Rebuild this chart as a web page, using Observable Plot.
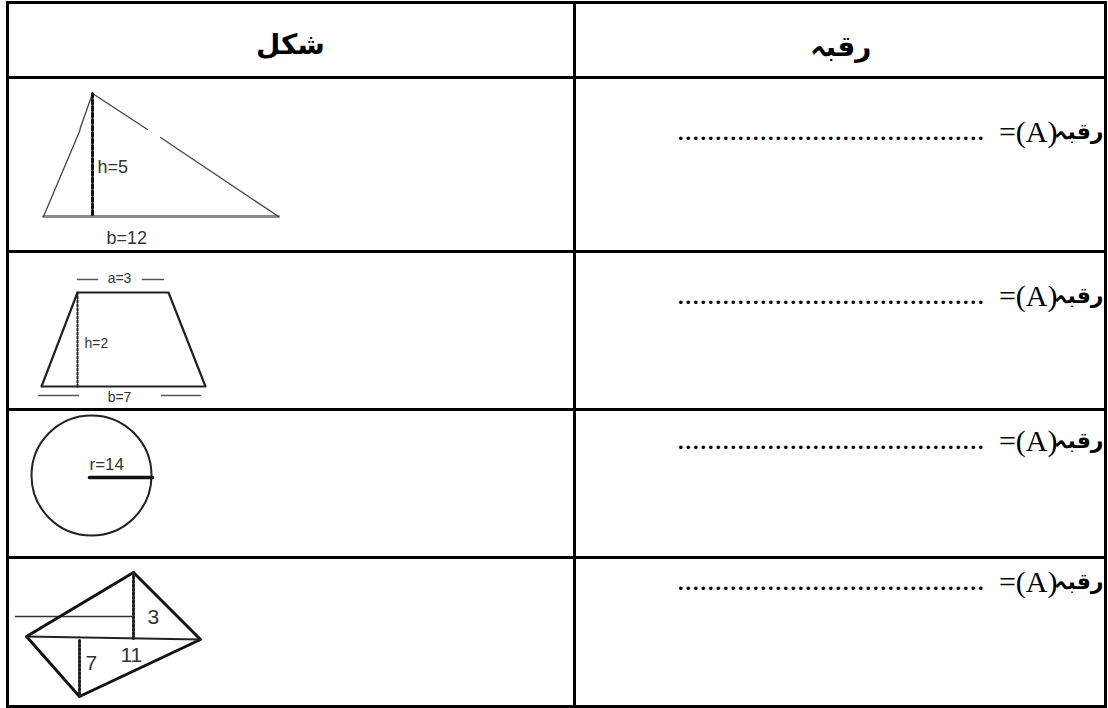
<!DOCTYPE html>
<html>
<head>
<meta charset="utf-8">
<script src="https://cdn.jsdelivr.net/npm/d3@7"></script>
<script src="https://cdn.jsdelivr.net/npm/@observablehq/plot@0.6"></script>
<style>
  html, body { margin: 0; padding: 0; background: #fff; }
  #chart svg { display: block; }
</style>
</head>
<body>
<div id="chart"></div>
<script>
// ---- table structure ----
const rowLines = [2, 77, 251, 409, 557, 706];
const colLines = [7, 574, 1105];
const headers = [
  { label: "شکل", x: 290, y: 45 },
  { label: "رقبہ", x: 840, y: 47 }
];
const answerRows = [131, 295, 440, 581];
const answerWord = "رقبہ";
const answerEq = "=(A)";
const answerDots = ".........................................";

// ---- shape 1: triangle (b=12, h=5) ----
const triLeftEdge = [{x: 43, y: 216}, {x: 79, y: 131}, {x: 80, y: 127}, {x: 92, y: 93}];
const triRightEdgeA = [{x: 92, y: 93}, {x: 147, y: 129}];
const triRightEdgeB = [{x: 160, y: 137}, {x: 278, y: 216}];
const triBase = [{x: 43, y: 216}, {x: 278, y: 216}];
const triHeight = [{x: 92, y: 93}, {x: 92, y: 216}];
const triLabels = [
  { t: "h=5", x: 97, y: 167, size: 18 },
  { t: "b=12", x: 106, y: 238, size: 18 }
];

// ---- shape 2: trapezium (a=3, b=7, h=2) ----
const trap = [{x: 41, y: 386}, {x: 77, y: 292}, {x: 168, y: 292}, {x: 205, y: 386}, {x: 41, y: 386}];
const trapHeight = [{x: 77, y: 292}, {x: 77, y: 386}];
const trapTicks = [
  [{x: 77, y: 279}, {x: 97, y: 279}],
  [{x: 142, y: 279}, {x: 163, y: 279}],
  [{x: 38, y: 395}, {x: 78, y: 395}],
  [{x: 161, y: 395}, {x: 200, y: 395}]
];
const trapLabels = [
  { t: "a=3", x: 119, y: 278 },
  { t: "h=2", x: 84, y: 343 },
  { t: "b=7", x: 119, y: 397 }
];

// ---- shape 3: circle (r=14) ----
const circle = [{x: 91, y: 475, r: 60}];
const radius = [{x: 89, y: 477}, {x: 152, y: 477}];
const circLabel = [{ t: "r=14", x: 89, y: 464 }];

// ---- shape 4: quadrilateral (d=11, 3, 7) ----
const kite = [{x: 26, y: 636}, {x: 133, y: 572}, {x: 200, y: 639}, {x: 79, y: 696}, {x: 26, y: 636}];
const kiteDiag = [{x: 26, y: 636}, {x: 200, y: 639}];
const kiteGuide = [{x: 15, y: 616}, {x: 133, y: 616}];
const kiteH1 = [{x: 133, y: 572}, {x: 133, y: 638}];
const kiteH2 = [{x: 79, y: 640}, {x: 79, y: 696}];
const kiteLabels = [
  { t: "3", x: 147, y: 617 },
  { t: "11", x: 120, y: 655 },
  { t: "7", x: 85, y: 663 }
];

const sans = "Liberation Sans, Arial, sans-serif";
const serif = "Liberation Serif, Times New Roman, serif";
const urdu = "DejaVu Sans, Noto Sans, sans-serif";

const seg = (data, o) => Plot.line(data, {x: "x", y: "y", ...o});

const chart = Plot.plot({
  width: 1108,
  height: 708,
  margin: 0,
  x: {domain: [0, 1108], range: [0, 1108], axis: null},
  y: {domain: [0, 708], range: [0, 708], axis: null},
  r: {type: "identity"},
  style: {background: "#fff"},
  marks: [
    // table
    Plot.ruleY(rowLines, {y: d => d, x1: colLines[0] - 1, x2: colLines[2] + 2, stroke: "black", strokeWidth: 3}),
    Plot.ruleX(colLines, {x: d => d, y1: rowLines[0] - 1, y2: rowLines[5] + 1, stroke: "black", strokeWidth: 3}),
    Plot.text(headers, {x: "x", y: "y", text: "label", fontFamily: urdu, fontSize: 28, fontWeight: "bold", fill: "black"}),

    // answers
    Plot.text(answerRows, {x: 1103, y: d => d, text: () => answerWord, textAnchor: "end", fontFamily: urdu, fontSize: 22, fontWeight: "bold", fill: "black"}),
    Plot.text(answerRows, {x: 1057, y: d => d + 1, text: () => answerEq, textAnchor: "end", fontFamily: serif, fontSize: 30, fill: "black"}),
    Plot.text(answerRows, {x: 984, y: d => d - 1, text: () => answerDots, textAnchor: "end", fontFamily: serif, fontSize: 30, fill: "black"}),

    // triangle
    seg(triBase, {stroke: "#8a8a8a", strokeWidth: 3}),
    seg(triLeftEdge, {stroke: "#444", strokeWidth: 1.3}),
    seg(triRightEdgeA, {stroke: "#444", strokeWidth: 1.3}),
    seg(triRightEdgeB, {stroke: "#444", strokeWidth: 1.3}),
    seg(triHeight, {stroke: "#111", strokeWidth: 3, strokeDasharray: "4,2.5"}),
    Plot.text(triLabels, {x: "x", y: "y", text: "t", fontSize: d => d.size, textAnchor: "start", fontFamily: sans, fill: "#333"}),

    // trapezium
    seg(trap, {stroke: "#222", strokeWidth: 2.2}),
    seg(trapHeight, {stroke: "#222", strokeWidth: 2, strokeDasharray: "2,2"}),
    ...trapTicks.map(t => seg(t, {stroke: "#555", strokeWidth: 1.5})),
    Plot.text(trapLabels.slice(0, 1), {x: "x", y: "y", text: "t", fontSize: 14, fontFamily: sans, fill: "#333"}),
    Plot.text(trapLabels.slice(1, 2), {x: "x", y: "y", text: "t", fontSize: 14, textAnchor: "start", fontFamily: sans, fill: "#333"}),
    Plot.text(trapLabels.slice(2), {x: "x", y: "y", text: "t", fontSize: 14, fontFamily: sans, fill: "#333"}),

    // circle
    Plot.dot(circle, {x: "x", y: "y", r: "r", fill: "none", stroke: "#222", strokeWidth: 2}),
    seg(radius, {stroke: "#111", strokeWidth: 3.5}),
    Plot.text(circLabel, {x: "x", y: "y", text: "t", fontSize: 17, textAnchor: "start", fontFamily: sans, fill: "#333"}),

    // quadrilateral
    seg(kiteGuide, {stroke: "#333", strokeWidth: 1.5}),
    seg(kite, {stroke: "#111", strokeWidth: 3}),
    seg(kiteDiag, {stroke: "#222", strokeWidth: 2}),
    seg(kiteH1, {stroke: "#222", strokeWidth: 3, strokeDasharray: "2,2"}),
    seg(kiteH2, {stroke: "#222", strokeWidth: 3, strokeDasharray: "2,2"}),
    Plot.text(kiteLabels, {x: "x", y: "y", text: "t", fontSize: 21, textAnchor: "start", fontFamily: sans, fill: "#333"})
  ]
});
document.getElementById("chart").append(chart);
</script>
</body>
</html>
